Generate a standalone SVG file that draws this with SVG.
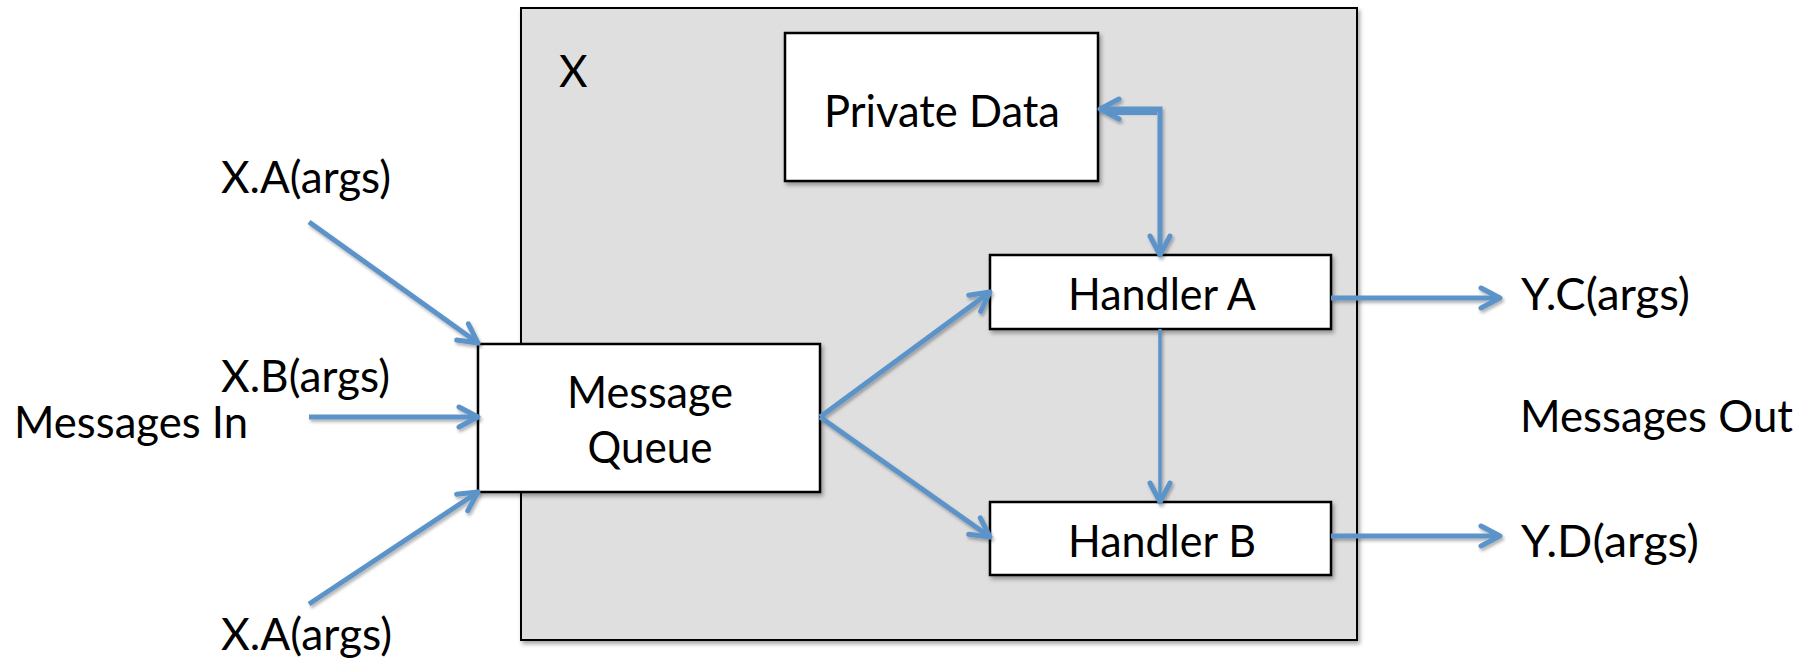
<svg xmlns="http://www.w3.org/2000/svg" width="1811" height="660" viewBox="0 0 1811 660">
<defs>
<style>
.box{fill:#ffffff;stroke:#000000;stroke-width:2.5;filter:url(#sh)}
.outer{fill:#dfdfdf;stroke:#000000;stroke-width:2;filter:url(#sh)}
.t{font-family:Lato,"Open Sans","Liberation Sans",sans-serif;font-size:44px;fill:#000000}
.c{text-anchor:middle}
.ar{fill:none;stroke:#5b93c9;stroke-width:5;marker-end:url(#ah);filter:url(#sh2)}
</style>
<filter id="sh" x="-10%" y="-10%" width="120%" height="130%">
<feDropShadow dx="2" dy="3" stdDeviation="2" flood-color="#000" flood-opacity="0.35"/>
</filter>
<filter id="sh2" filterUnits="userSpaceOnUse" x="0" y="0" width="1811" height="660">
<feDropShadow dx="1.5" dy="2.5" stdDeviation="1.5" flood-color="#000" flood-opacity="0.3"/>
</filter>
<marker id="ah" markerUnits="userSpaceOnUse" viewBox="0 0 26 26" markerWidth="26" markerHeight="26" refX="22" refY="13" orient="auto-start-reverse">
<path d="M3,3 L22,13 L3,23" fill="none" stroke="#5b93c9" stroke-width="5" stroke-linecap="round" stroke-linejoin="round"/>
</marker>
</defs>
<g id="container-X">
<rect class="outer" x="521" y="8" width="836" height="632"/>
<text class="t" x="559" y="87">X</text>
</g>
<g id="private-data">
<rect class="box" x="785" y="33" width="313" height="148"/>
<text class="t c" x="942" y="127" textLength="236" lengthAdjust="spacingAndGlyphs">Private Data</text>
</g>
<g id="message-queue">
<rect class="box" x="478" y="344" width="342" height="148"/>
<text class="t c" x="650" y="408" textLength="166" lengthAdjust="spacingAndGlyphs">Message</text>
<text class="t c" x="650" y="463" textLength="125" lengthAdjust="spacingAndGlyphs">Queue</text>
</g>
<g id="handler-a">
<rect class="box" x="990" y="255" width="341" height="74"/>
<text class="t c" x="1162" y="310" textLength="188" lengthAdjust="spacingAndGlyphs">Handler A</text>
</g>
<g id="handler-b">
<rect class="box" x="990" y="502" width="341" height="73"/>
<text class="t c" x="1162" y="557" textLength="188" lengthAdjust="spacingAndGlyphs">Handler B</text>
</g>
<g id="labels">
<text class="t" x="221" y="193" textLength="170" lengthAdjust="spacingAndGlyphs">X.A(args)</text>
<text class="t" x="221" y="392" textLength="169" lengthAdjust="spacingAndGlyphs">X.B(args)</text>
<text class="t" x="14" y="438" textLength="234" lengthAdjust="spacingAndGlyphs">Messages In</text>
<text class="t" x="221" y="650" textLength="171" lengthAdjust="spacingAndGlyphs">X.A(args)</text>
<text class="t" x="1521" y="310" textLength="169" lengthAdjust="spacingAndGlyphs">Y.C(args)</text>
<text class="t" x="1520" y="432" textLength="273" lengthAdjust="spacingAndGlyphs">Messages Out</text>
<text class="t" x="1521" y="557" textLength="178" lengthAdjust="spacingAndGlyphs">Y.D(args)</text>
</g>
<g id="connectors">
<line class="ar" x1="309" y1="222" x2="478" y2="343"/>
<line class="ar" x1="309" y1="417" x2="478" y2="417"/>
<line class="ar" x1="309" y1="604" x2="478" y2="492"/>
<line class="ar" x1="820" y1="417" x2="990" y2="292"/>
<line class="ar" x1="820" y1="417" x2="990" y2="537"/>
<line class="ar" x1="1160" y1="329" x2="1160" y2="502" style="stroke-width:3.5"/>
<line class="ar" x1="1331" y1="298" x2="1500" y2="298"/>
<line class="ar" x1="1331" y1="536" x2="1500" y2="536"/>
<path class="ar" d="M1100,109 L1160,109 L1160,255" style="marker-start:url(#ah)"/>
<line x1="1106" y1="113" x2="1157" y2="113" stroke="#5b93c9" stroke-width="4"/>
</g>
</svg>
